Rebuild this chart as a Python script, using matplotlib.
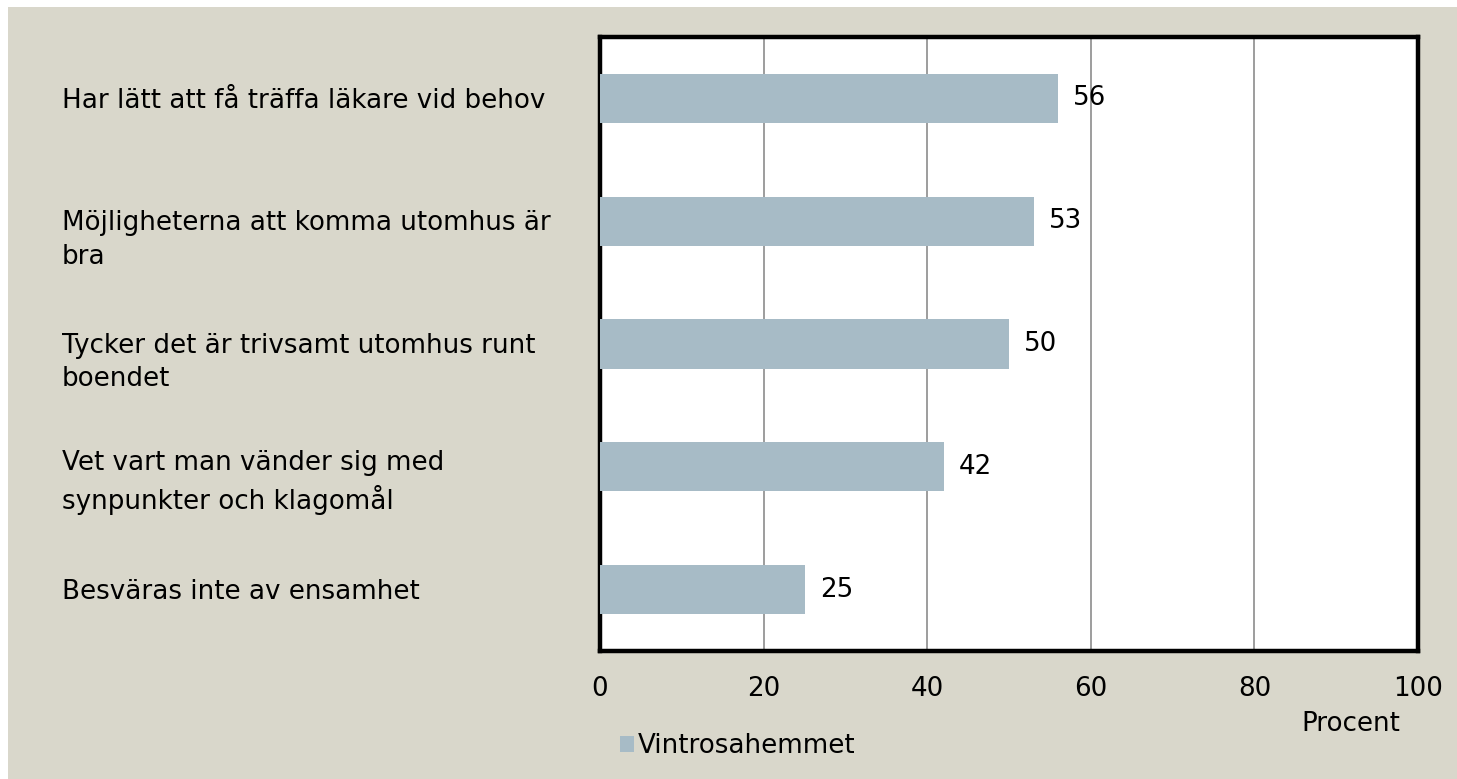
import matplotlib.pyplot as plt
from matplotlib.patches import Rectangle
from matplotlib.transforms import blended_transform_factory, offset_copy

categories = [
    "Har lätt att få träffa läkare vid behov",
    "Möjligheterna att komma utomhus är\nbra",
    "Tycker det är trivsamt utomhus runt\nboendet",
    "Vet vart man vänder sig med\nsynpunkter och klagomål",
    "Besväras inte av ensamhet",
]
values = [56, 53, 50, 42, 25]
series_name = "Vintrosahemmet"
xticks = [0, 20, 40, 60, 80, 100]

bg = "#D9D7CB"
bar_color = "#A7BBC6"
fs = 18.8
line_step = 33 * 0.72  # points between label lines

plt.rcParams['font.family'] = ['DejaVu Sans']

fig = plt.figure(figsize=(14.57, 7.79), dpi=100)
fig.patch.set_facecolor("white")
fig.patches.append(Rectangle((8 / 1457, 0), 1, 1 - 7 / 779, transform=fig.transFigure,
                             facecolor=bg, edgecolor="none", zorder=-10))

ax = fig.add_axes([600 / 1457, 1 - 651 / 779, 818 / 1457, 614 / 779])
ax.set_facecolor("white")

ypos = list(range(len(categories)))
bars = ax.barh(ypos, values, height=0.4, color=bar_color, zorder=3)
ax.bar_label(bars, labels=[str(v) for v in values], padding=11, fontsize=fs)

ax.set_xlim(0, 100)
ax.set_ylim(len(categories) - 0.5, -0.5)
ax.set_xticks(xticks)
ax.set_xticklabels([str(t) for t in xticks], fontsize=fs)
ax.set_yticks([])
ax.tick_params(axis='x', length=0, pad=18)
ax.grid(axis='x', color="#8C8C8C", linewidth=1.2, zorder=1)
for sp in ax.spines.values():
    sp.set_linewidth(3.2)
    sp.set_color("black")

# category labels, first line level with the bar centre
trans = blended_transform_factory(fig.transFigure, ax.transData)
for y, lab in zip(ypos, categories):
    extra = lab.count("\n")
    t = offset_copy(trans, fig=fig, x=0, y=-fs * 0.36 - extra * line_step, units='points')
    ax.text(62 / 1457, y, lab, transform=t, ha='left', va='baseline',
            fontsize=fs, linespacing=1.39, clip_on=False)

fig.text(1351 / 1457, 1 - 724 / 779, "Procent", ha='center', va='center', fontsize=fs)

handle = Rectangle((0, 0), 1, 1, facecolor=bar_color, edgecolor="none")
fig.legend([handle], [series_name], loc='center left',
           bbox_to_anchor=(620 / 1457, 1 - 746 / 779), frameon=False, fontsize=fs,
           handlelength=0.55, handleheight=0.55, handletextpad=0.15, borderpad=0, borderaxespad=0)

fig.savefig("out.png", dpi=100, facecolor=fig.get_facecolor())
